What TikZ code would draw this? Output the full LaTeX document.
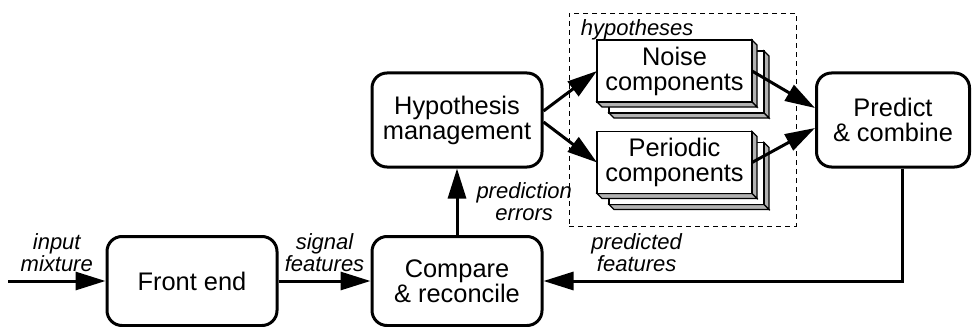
\documentclass[tikz,border=0pt]{standalone}
\usepackage{fontspec}
\setmainfont{Liberation Sans}
\usetikzlibrary{arrows.meta,positioning,calc,backgrounds}
\definecolor{depthgray}{RGB}{178,178,178}

% one layer of a stacked box: node, dx, dy
\newcommand{\slab}[3]{%
  \path ($(#1.north west)+(#2,#3)$) coordinate (lnw)
        ($(#1.south east)+(#2,#3)$) coordinate (lse);
  \filldraw[fill=depthgray, line width=0.6pt] (lnw -| lse) -- ++(5,5) -- ($(lse)+(5,5)$) -- (lse) -- cycle;
  \filldraw[fill=depthgray, line width=0.6pt] (lnw |- lse) -- (lse) -- ($(lse)+(5,5)$) -- ($(lnw |- lse)+(5,5)$) -- cycle;
  \filldraw[fill=white, line width=0.6pt] (lnw) rectangle (lse);
}

\begin{document}
\begin{tikzpicture}[x=0.5pt, y=-0.5pt,
  block/.style={rectangle, draw, line width=1.5pt, rounded corners=7.5pt,
    minimum width=85pt, minimum height=47pt, align=center, inner sep=2pt,
    font=\fontsize{12.7}{12.5}\selectfont},
  stack/.style={rectangle, draw, fill=white, line width=0.6pt, outer sep=0pt,
    minimum width=77.5pt, minimum height=31pt, align=center, inner sep=1pt,
    font=\fontsize{12.7}{12.5}\selectfont},
  lbl/.style={font=\fontsize{11}{11}\selectfont\itshape, align=center, inner sep=1pt},
  arrow/.style={-{Triangle[length=15pt,width=9pt]}, line width=1.5pt}
]
  \useasboundingbox (0,0) rectangle (972,326);

  % bottom row
  \coordinate (input) at (8,281);
  \node[block, minimum height=44.5pt] (frontend) at (192,281) {Front end};
  \node[block, minimum height=44.5pt] (compare) at (457,281) {Compare\\\& reconcile};

  % upper row
  \node[block] (hypman) at (457,120) {Hypothesis\\management};
  \node[block, minimum width=76.5pt] (predict) at (893,120) {Predict\\\& combine};

  % hypotheses group
  \node[draw, dash pattern=on 2.5pt off 2pt, line width=0.45pt, inner sep=0pt,
    minimum width=113.5pt, minimum height=106.5pt] (hypbox) at (682.5,119.5) {};
  \node[lbl, anchor=north west] (hyplbl) at ($(hypbox.north west)+(10,5)$) {hypotheses};
  \node[stack] (noise) at (674.5,71) {Noise\\components};
  \node[stack] (periodic) at (674.5,162.5) {Periodic\\components};

  \begin{scope}[on background layer]
    \slab{noise}{12}{11}
    \slab{noise}{0}{0}
    \slab{periodic}{12}{11}
    \slab{periodic}{0}{0}
  \end{scope}

  % arrows
  \draw[arrow] (input) -- node[lbl, above=3pt] {input\\mixture} (frontend);
  \draw[arrow] (frontend) -- node[lbl, above=3pt] {signal\\features} (compare);
  \draw[arrow] (compare) -- node[lbl, right=8pt] {prediction\\errors} (hypman);
  \draw[arrow] ($(hypman.east)+(0,-9)$) -- (noise.west);
  \draw[arrow] ($(hypman.east)+(0,2)$) -- (periodic.west);
  \draw[arrow] (noise.east) -- ($(predict.west)+(0,-12)$);
  \draw[arrow] (periodic.east) -- ($(predict.west)+(0,8)$);
  \draw[arrow] ([xshift=4.5pt]predict.south) |- node[lbl, above=3pt, pos=0.87] {predicted\\features} (compare.east);
\end{tikzpicture}
\end{document}
